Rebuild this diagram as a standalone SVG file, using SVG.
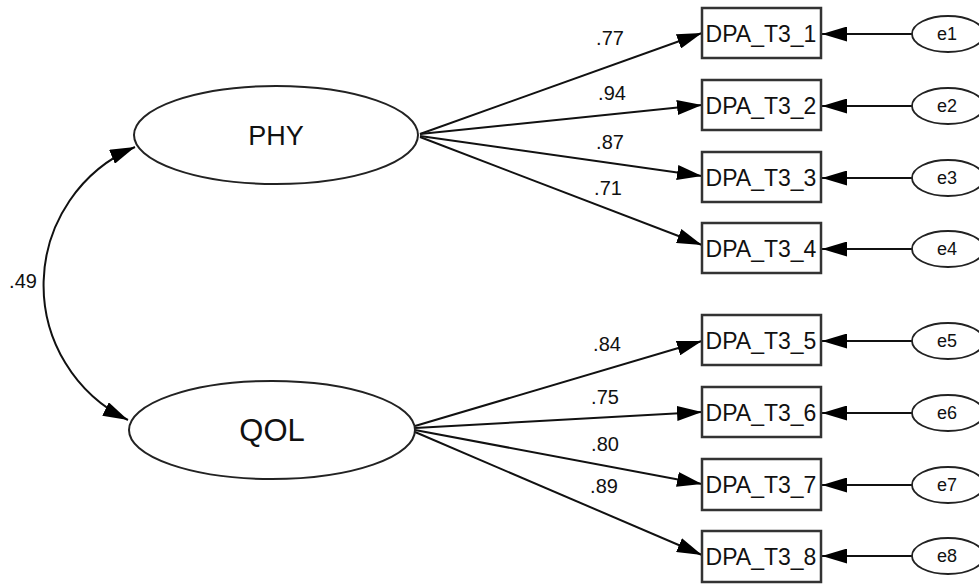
<svg xmlns="http://www.w3.org/2000/svg" width="979" height="586" viewBox="0 0 979 586">
<style>
.lat{fill:#fff;stroke:#222;stroke-width:2}
.box{fill:#fff;stroke:#333;stroke-width:2.5}
.err{fill:#fff;stroke:#222;stroke-width:1.8}
.ln{fill:none;stroke:#111;stroke-width:2}
text{font-family:"Liberation Sans",Arial,sans-serif;fill:#111;text-anchor:middle}
.bt{font-size:23px}
.et{font-size:18px}
.ct{font-size:20px}
</style>
<defs>
<marker id="ah" markerUnits="userSpaceOnUse" markerWidth="25" markerHeight="15" viewBox="0 0 25 15" refX="25" refY="7.5" orient="auto-start-reverse">
<path d="M0,0 L25,7.5 L0,15 z" fill="#000"/>
</marker>
</defs>
<g id="connectors">
<path class="ln" d="M135,147 A150,150 0 0 0 128,420" marker-start="url(#ah)" marker-end="url(#ah)"/>
<line class="ln" x1="420" y1="134" x2="702" y2="33" marker-end="url(#ah)"/>
<line class="ln" x1="420" y1="134" x2="702" y2="105" marker-end="url(#ah)"/>
<line class="ln" x1="420" y1="136" x2="702" y2="176" marker-end="url(#ah)"/>
<line class="ln" x1="420" y1="137" x2="702" y2="245" marker-end="url(#ah)"/>
<line class="ln" x1="415" y1="426" x2="702" y2="341" marker-end="url(#ah)"/>
<line class="ln" x1="415" y1="428" x2="702" y2="412" marker-end="url(#ah)"/>
<line class="ln" x1="415" y1="430" x2="702" y2="484" marker-end="url(#ah)"/>
<line class="ln" x1="415" y1="432" x2="702" y2="555" marker-end="url(#ah)"/>
<line class="ln" x1="912" y1="34" x2="822" y2="34" marker-end="url(#ah)"/>
<line class="ln" x1="912" y1="106" x2="822" y2="106" marker-end="url(#ah)"/>
<line class="ln" x1="912" y1="178" x2="822" y2="178" marker-end="url(#ah)"/>
<line class="ln" x1="912" y1="249" x2="822" y2="249" marker-end="url(#ah)"/>
<line class="ln" x1="912" y1="341" x2="822" y2="341" marker-end="url(#ah)"/>
<line class="ln" x1="912" y1="413" x2="822" y2="413" marker-end="url(#ah)"/>
<line class="ln" x1="912" y1="485" x2="822" y2="485" marker-end="url(#ah)"/>
<line class="ln" x1="912" y1="556" x2="822" y2="556" marker-end="url(#ah)"/>
<text class="ct" x="23" y="288">.49</text>
<text class="ct" x="610" y="45">.77</text>
<text class="ct" x="612" y="100">.94</text>
<text class="ct" x="610" y="149">.87</text>
<text class="ct" x="608" y="195">.71</text>
<text class="ct" x="607" y="351">.84</text>
<text class="ct" x="605" y="404">.75</text>
<text class="ct" x="605" y="451">.80</text>
<text class="ct" x="604" y="493">.89</text>
</g>
<g id="PHY"><ellipse class="lat" cx="276" cy="135" rx="142" ry="49"/><text x="276" y="145" font-size="27">PHY</text></g>
<g id="QOL"><ellipse class="lat" cx="272" cy="430" rx="143" ry="49"/><text x="272" y="441" font-size="31">QOL</text></g>
<g id="DPA_T3_1"><rect class="box" x="702" y="8" width="119" height="50"/><text class="bt" x="761" y="42">DPA_T3_1</text></g>
<g id="DPA_T3_2"><rect class="box" x="702" y="80" width="119" height="50"/><text class="bt" x="761" y="114">DPA_T3_2</text></g>
<g id="DPA_T3_3"><rect class="box" x="702" y="152" width="119" height="50"/><text class="bt" x="761" y="186">DPA_T3_3</text></g>
<g id="DPA_T3_4"><rect class="box" x="702" y="223" width="119" height="50"/><text class="bt" x="761" y="257">DPA_T3_4</text></g>
<g id="DPA_T3_5"><rect class="box" x="702" y="315" width="119" height="50"/><text class="bt" x="761" y="349">DPA_T3_5</text></g>
<g id="DPA_T3_6"><rect class="box" x="702" y="387" width="119" height="50"/><text class="bt" x="761" y="421">DPA_T3_6</text></g>
<g id="DPA_T3_7"><rect class="box" x="702" y="459" width="119" height="51"/><text class="bt" x="761" y="493">DPA_T3_7</text></g>
<g id="DPA_T3_8"><rect class="box" x="702" y="531" width="119" height="51"/><text class="bt" x="761" y="565">DPA_T3_8</text></g>
<g id="e1"><ellipse class="err" cx="948" cy="34" rx="36" ry="18"/><text class="et" x="947" y="40">e1</text></g>
<g id="e2"><ellipse class="err" cx="948" cy="106" rx="36" ry="18"/><text class="et" x="947" y="112">e2</text></g>
<g id="e3"><ellipse class="err" cx="948" cy="178" rx="36" ry="18"/><text class="et" x="947" y="184">e3</text></g>
<g id="e4"><ellipse class="err" cx="948" cy="249" rx="36" ry="18"/><text class="et" x="947" y="255">e4</text></g>
<g id="e5"><ellipse class="err" cx="948" cy="341" rx="36" ry="18"/><text class="et" x="947" y="347">e5</text></g>
<g id="e6"><ellipse class="err" cx="948" cy="413" rx="36" ry="18"/><text class="et" x="947" y="419">e6</text></g>
<g id="e7"><ellipse class="err" cx="948" cy="485" rx="36" ry="18"/><text class="et" x="947" y="491">e7</text></g>
<g id="e8"><ellipse class="err" cx="948" cy="556" rx="36" ry="18"/><text class="et" x="947" y="562">e8</text></g>
</svg>
